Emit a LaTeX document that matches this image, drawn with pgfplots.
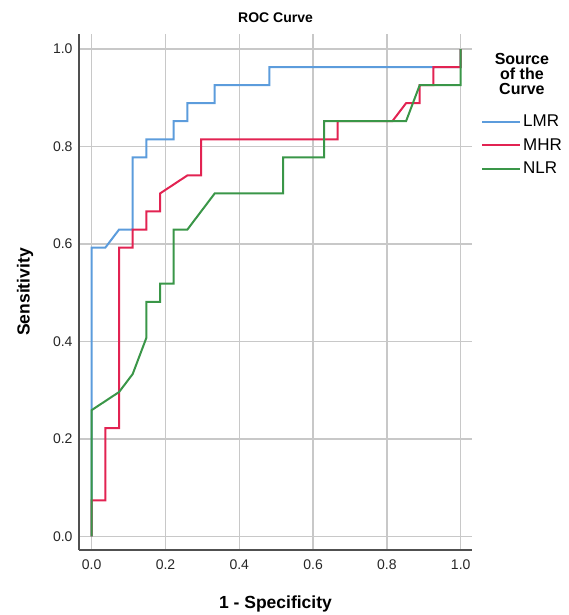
\documentclass[border=0pt]{standalone}
\usepackage{fontspec}
\setmainfont{Liberation Sans}
\usepackage{pgfplots}
\pgfplotsset{compat=1.18}
\definecolor{lmr}{RGB}{92,156,220}
\definecolor{mhr}{RGB}{226,35,82}
\definecolor{nlr}{RGB}{58,150,72}
\definecolor{gridc}{RGB}{200,200,200}
\definecolor{axc}{RGB}{80,80,80}
\begin{document}
\begin{tikzpicture}
\path[use as bounding box] (-79pt,-65pt) rectangle (490pt,550pt);
\begin{axis}[
  at={(0pt,0pt)}, anchor=south west,
  scale only axis, width=393pt, height=516pt,
  xmin=-0.0344, xmax=1.0306, ymin=-0.0277, ymax=1.0308,
  axis lines*=left,
  axis line style={axc, line width=1.6pt},
  xtick={0,0.2,0.4,0.6,0.8,1.0}, ytick={0,0.2,0.4,0.6,0.8,1.0},
  xticklabels={0.0,0.2,0.4,0.6,0.8,1.0},
  yticklabels={0.0,0.2,0.4,0.6,0.8,1.0},
  major tick length=0pt,
  grid=major,
  major grid style={gridc, line width=1.5pt},
  /pgf/number format/assume math mode=true,
  tick label style={font=\fontsize{14}{16}\selectfont, text=black!85},
  xticklabel style={yshift=-6pt},
  yticklabel style={xshift=-3pt},
  title={\bfseries ROC Curve},
  title style={at={(axis description cs:0.5,1.031)}, anchor=center, yshift=-6pt, font=\fontsize{14}{16}\selectfont},
  xlabel={\bfseries 1 - Specificity},
  xlabel style={at={(axis description cs:0.5,-0.1050)}, anchor=center, font=\fontsize{17.5}{20}\selectfont},
  ylabel={\bfseries Sensitivity},
  ylabel style={at={(axis description cs:-0.1374,0.5)}, anchor=center, rotate=0, font=\fontsize{17.5}{20}\selectfont},
  legend style={at={(axis description cs:1.0229,0.8471)}, anchor=north west, draw=none, fill=none,
    inner sep=0pt, font=\fontsize{17}{20}\selectfont, row sep=6.3pt},
  legend cell align=left,
  legend image code/.code={\draw[#1] (0pt,0pt) -- (33pt,0pt); \path (0pt,0pt) -- (38pt,0pt);},
  clip=false,
]
\addplot[lmr, line width=2pt] coordinates {
(0,0)(0,0.5926)(0.037,0.5926)(0.0741,0.6296)(0.1111,0.6296)(0.1111,0.7778)
(0.1481,0.7778)(0.1481,0.8148)(0.2222,0.8148)(0.2222,0.8519)(0.2593,0.8519)
(0.2593,0.8889)(0.3333,0.8889)(0.3333,0.9259)(0.4815,0.9259)(0.4815,0.963)
(1,0.963)(1,1)};
\addlegendentry{LMR}
\addplot[mhr, line width=2pt] coordinates {
(0,0)(0,0.0741)(0.037,0.0741)(0.037,0.2222)(0.0741,0.2222)(0.0741,0.5926)
(0.1111,0.5926)(0.1111,0.6296)(0.1481,0.6296)(0.1481,0.6667)(0.1852,0.6667)
(0.1852,0.7037)(0.2593,0.7407)(0.2963,0.7407)(0.2963,0.8148)(0.6667,0.8148)
(0.6667,0.8519)(0.8148,0.8519)(0.8519,0.8889)(0.8889,0.8889)(0.8889,0.9259)
(0.9259,0.9259)(0.9259,0.963)(1,0.963)(1,1)};
\addlegendentry{MHR}
\addplot[nlr, line width=2pt] coordinates {
(0,0)(0,0.2593)(0.0741,0.2963)(0.1111,0.3333)(0.1481,0.4074)(0.1481,0.4815)
(0.1852,0.4815)(0.1852,0.5185)(0.2222,0.5185)(0.2222,0.6296)(0.2593,0.6296)
(0.3333,0.7037)(0.5185,0.7037)(0.5185,0.7778)(0.6296,0.7778)(0.6296,0.8519)
(0.8519,0.8519)(0.8889,0.9259)(1,0.9259)(1,1)};
\addlegendentry{NLR}
\node[align=center, font=\bfseries\fontsize{16}{15}\selectfont, anchor=center]
  at (axis description cs:1.127,0.9225) {Source\\of the\\Curve};
\end{axis}
\end{tikzpicture}
\end{document}
